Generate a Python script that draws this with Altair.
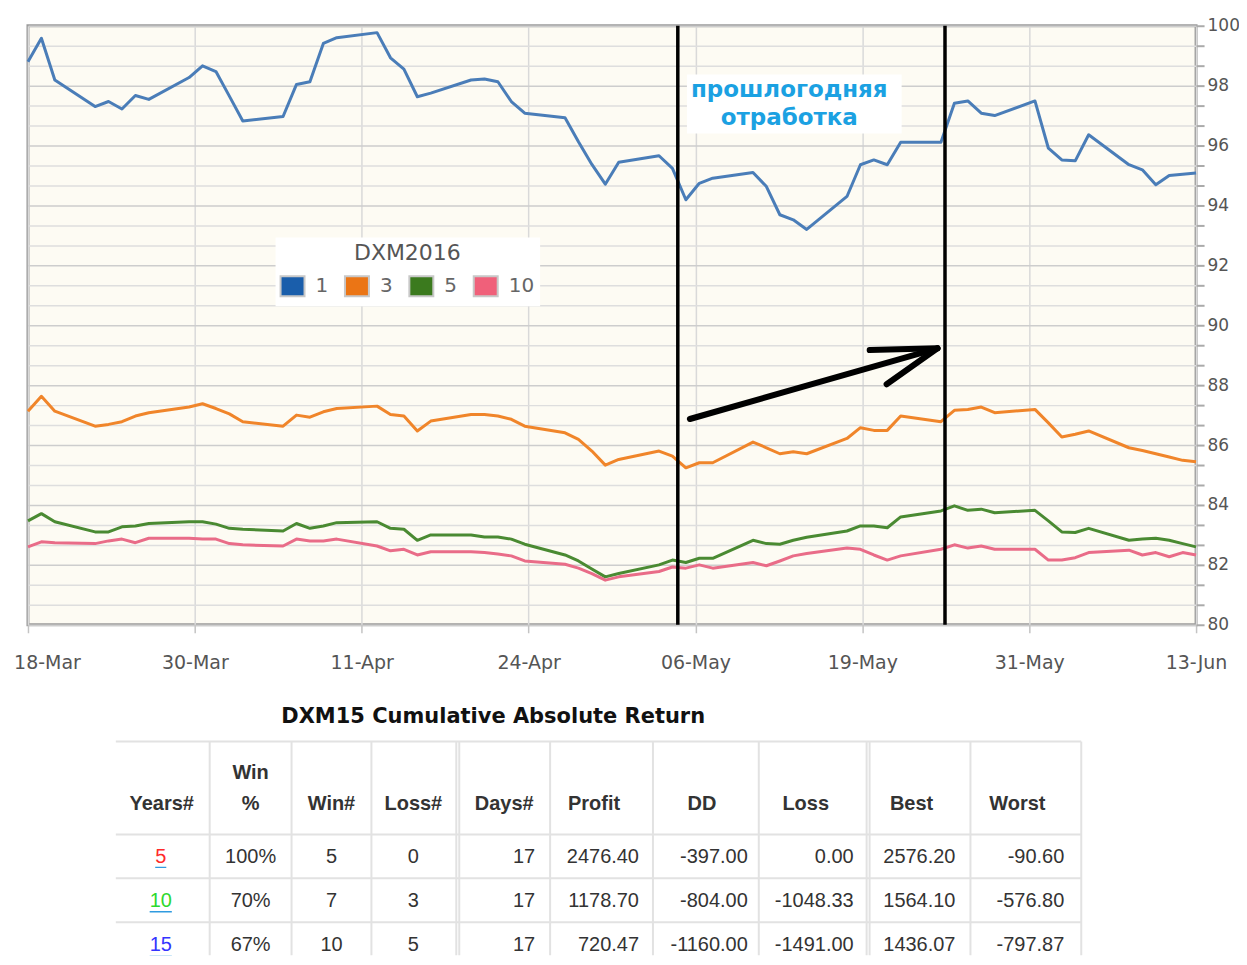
import altair as alt
import pandas as pd

# ---------------- chart data ----------------
days = [0, 1, 2, 5, 6, 7, 8, 9, 12, 13, 14, 15, 16, 19, 20, 21, 22, 23, 26, 27, 28, 29, 30,
        33, 34, 35, 36, 37, 40, 41, 42, 43, 44, 47, 48, 49, 50, 51, 54, 55, 56, 57, 58,
        61, 62, 63, 64, 65, 68, 69, 70, 71, 72, 75, 76, 77, 78, 79, 82, 83, 84, 85, 86, 87]

s1 = [98.8, 99.58, 98.19, 97.3, 97.47, 97.22, 97.67, 97.54, 98.27, 98.66, 98.47, 97.65, 96.82,
      96.97, 98.04, 98.13, 99.41, 99.6, 99.77, 98.93, 98.55, 97.63, 97.75, 98.19, 98.22, 98.13,
      97.47, 97.08, 96.93, 96.13, 95.37, 94.71, 95.44, 95.66, 95.24, 94.19, 94.74, 94.91, 95.1,
      94.63, 93.69, 93.52, 93.2, 94.3, 95.36, 95.52, 95.36, 96.11, 96.11, 97.41, 97.49, 97.08,
      97.0, 97.49, 95.91, 95.52, 95.49, 96.36, 95.36, 95.19, 94.69, 95.0, 95.04, 95.08]

s3 = [87.13, 87.63, 87.13, 86.63, 86.69, 86.78, 86.97, 87.08, 87.27, 87.38, 87.22, 87.04, 86.78,
      86.63, 87.0, 86.93, 87.11, 87.22, 87.3, 87.02, 86.97, 86.47, 86.8, 87.02, 87.02, 86.97,
      86.86, 86.63, 86.41, 86.19, 85.8, 85.33, 85.52, 85.8, 85.63, 85.24, 85.41, 85.41, 86.1,
      85.91, 85.71, 85.78, 85.71, 86.22, 86.58, 86.49, 86.49, 86.97, 86.78, 87.16, 87.19, 87.27,
      87.08, 87.19, 86.74, 86.27, 86.36, 86.47, 85.91, 85.82, 85.71, 85.6, 85.49, 85.44]

s5 = [83.47, 83.71, 83.44, 83.1, 83.1, 83.27, 83.3, 83.38, 83.44, 83.44, 83.36, 83.22, 83.19,
      83.13, 83.38, 83.22, 83.3, 83.41, 83.44, 83.22, 83.19, 82.82, 83.0, 83.0, 82.93, 82.93,
      82.86, 82.69, 82.33, 82.13, 81.86, 81.6, 81.71, 82.0, 82.16, 82.08, 82.22, 82.22, 82.82,
      82.71, 82.69, 82.82, 82.92, 83.13, 83.3, 83.3, 83.24, 83.6, 83.8, 83.97, 83.82, 83.86,
      83.74, 83.82, 83.47, 83.1, 83.08, 83.22, 82.82, 82.86, 82.89, 82.82, 82.71, 82.6]

s10 = [82.6, 82.77, 82.74, 82.71, 82.8, 82.86, 82.74, 82.89, 82.89, 82.86, 82.86, 82.71, 82.67,
       82.63, 82.86, 82.8, 82.8, 82.86, 82.63, 82.47, 82.52, 82.33, 82.44, 82.44, 82.41, 82.36,
       82.3, 82.13, 82.02, 81.89, 81.71, 81.49, 81.6, 81.78, 81.93, 81.89, 82.0, 81.89, 82.08,
       81.97, 82.13, 82.3, 82.38, 82.56, 82.52, 82.33, 82.16, 82.3, 82.52, 82.67, 82.56, 82.63,
       82.52, 82.52, 82.16, 82.16, 82.24, 82.41, 82.49, 82.33, 82.41, 82.27, 82.41, 82.33]

series_names = ["1", "3", "5", "10"]
legend_title = "DXM2016"
x_labels = ["18-Mar", "30-Mar", "11-Apr", "24-Apr", "06-May", "19-May", "31-May", "13-Jun"]
y_labels = [80, 82, 84, 86, 88, 90, 92, 94, 96, 98, 100]

# annotations (hand-drawn on the original)
vline_days = [48.4, 68.3]
arrow_from_day = [49.3, 62.69, 63.95]
arrow_from_val = [86.87, 89.17, 88.03]
arrow_tip_day = 67.74
arrow_tip_val = 89.23
note_lines = ["прошлогодняя", "отработка"]
note_day = 56.7
note_vals = [97.87, 96.93]
note_box = {"d1": 49.08, "d2": 65.07, "v1": 96.4, "v2": 98.37}

# table data
table_title = "DXM15 Cumulative Absolute Return"
col_headers = ["Years#", "Win %", "Win#", "Loss#", "Days#", "Profit", "DD", "Loss", "Best", "Worst"]
years = ["5", "10", "15"]
win_pct = ["100%", "70%", "67%"]
win_n = [5, 7, 10]
loss_n = [0, 3, 5]
days_n = [17, 17, 17]
profit = [2476.40, 1178.70, 720.47]
dd = [-397.00, -804.00, -1160.00]
loss_amt = [0.00, -1048.33, -1491.00]
best = [2576.20, 1564.10, 1436.07]
worst = [-90.60, -576.80, -797.87]

# ---------------- styles ----------------
line_colors = ["#4A7DB8", "#F0852A", "#4A8A32", "#E96C88"]
swatch_colors = ["#1A5EAB", "#EB7515", "#3B7A1E", "#F0607A"]
year_colors = ["#ff2a2a", "#2ed82e", "#3434ff"]
X_MAX = 87
x_ticks = [k * X_MAX / 7 for k in range(8)]
y_ticks = [80 + i * 2 / 3 for i in range(31)]

rows = []
for name, lc, vals in zip(series_names, line_colors, [s1, s3, s5, s10]):
    for d, v in zip(days, vals):
        rows.append({"day": d, "value": v, "series": name, "lc": lc})
df = pd.DataFrame(rows)

xs = alt.Scale(domain=[0, X_MAX], nice=False, zero=False)
ys = alt.Scale(domain=[80, 100], nice=False, zero=False)

label_arr = "[" + ",".join("'%s'" % s for s in x_labels) + "]"
ylab_arr = "[" + ",".join(str(v) for v in y_labels) + "]"
is_major = "abs(datum.value - round(datum.value)) < 0.01 && indexof(%s, round(datum.value)) >= 0" % ylab_arr

x_axis = alt.Axis(
    values=x_ticks, title=None, grid=True, gridColor="#d9d9d9", gridWidth=1.5,
    domain=False, tickSize=8, tickColor="#c4c4c4", tickWidth=1.5,
    labelExpr="%s[round(datum.value * 7 / %s)]" % (label_arr, X_MAX),
    labelFont="DejaVu Sans", labelFontSize=19, labelColor="#555555", labelPadding=21,
    labelFlush=False, labelOverlap=False,
    labelOffset={"condition": {"test": "datum.value < 1", "value": 19}, "value": 0},
)
y_axis = alt.Axis(
    orient="right", values=y_ticks, title=None, grid=True, gridWidth=1.5,
    gridColor={"condition": {"test": is_major, "value": "#cdcdcd"}, "value": "#dedede"},
    domain=False, tickSize=8, tickColor="#aaaaaa", tickWidth=2,
    labelExpr="(%s) ? format(round(datum.value), 'd') : ''" % is_major,
    labelFont="DejaVu Sans", labelFontSize=17, labelColor="#555555", labelPadding=3,
    labelOverlap=False,
)

X = lambda f="day": alt.X(f + ":Q", scale=xs, axis=x_axis)
Y = lambda f="value": alt.Y(f + ":Q", scale=ys, axis=y_axis)

lines = alt.Chart(df).mark_line(strokeWidth=3, strokeJoin="round").encode(
    x=X(), y=Y(),
    color=alt.Color("lc:N", scale=None),
    detail="series:N",
)

# legend swatches: one clipped, invisible helper square per series (pushed below the view)
leg_df = pd.DataFrame({"series": series_names, "day": [days[0]] * 4, "value": [70] * 4})
legend_layer = alt.Chart(leg_df).mark_square(filled=True, opacity=1, clip=True).encode(
    x=X(), y=Y(),
    fill=alt.Fill(
        "series:N",
        scale=alt.Scale(domain=series_names, range=swatch_colors),
        legend=alt.Legend(
            orient="none", legendX=248, legendY=212, direction="horizontal",
            title=legend_title, titleFont="DejaVu Sans", titleFontSize=22,
            titleFontWeight="normal", titleColor="#555555", titleAnchor="middle",
            titlePadding=10, fillColor="white", padding=6,
            symbolType="M-1.2,-1H1.2V1H-1.2Z", symbolSize=400,
            symbolStrokeColor="#c8c8c8", symbolStrokeWidth=2, symbolOpacity=1,
            labelFont="DejaVu Sans", labelFontSize=20, labelColor="#666666",
            labelOffset=12, columnPadding=12.5,
        ),
    ),
)

vrules = alt.Chart(pd.DataFrame({"day": vline_days})).mark_rule(
    color="black", strokeWidth=3.5
).encode(x=X())

adf = pd.DataFrame({
    "day": arrow_from_day, "value": arrow_from_val,
    "day2": [arrow_tip_day] * 3, "value2": [arrow_tip_val] * 3,
})
arrow = alt.Chart(adf).mark_rule(color="black", strokeWidth=6, strokeCap="round").encode(
    x=X(), y=Y(), x2="day2:Q", y2="value2:Q"
)

box = alt.Chart(pd.DataFrame([note_box])).mark_rect(fill="white").encode(
    x=X("d1"), x2="d2:Q", y=Y("v1"), y2="v2:Q"
)
note = alt.Chart(pd.DataFrame({"day": [note_day] * 2, "value": note_vals, "t": note_lines})).mark_text(
    font="DejaVu Sans", fontSize=23, fontWeight="bold", color="#1BA1E2",
    align="center", baseline="middle"
).encode(x=X(), y=Y(), text="t:N")

top = alt.layer(lines, vrules, arrow, box, note, legend_layer).properties(
    width=1170, height=600,
    view=alt.ViewBackground(fill="#FDFBF3", stroke="#9a9a9a", strokeWidth=3),
)

# ---------------- table (layout in page-pixel units) ----------------
T_TOP, T_BOT = 674, 955
tx = alt.Scale(domain=[27, 1197], nice=False, zero=False)
ty = alt.Scale(domain=[T_TOP, T_BOT], reverse=True, nice=False, zero=False)
TXe = lambda f: alt.X(f + ":Q", scale=tx, axis=None)
TYe = lambda f: alt.Y(f + ":Q", scale=ty, axis=None)

table_x0, table_x1 = 115, 1082
row_lines = [741, 834, 878, 922]
col_lines = [209, 291, 371, 456, 459, 550, 653, 759, 867, 870, 971, 1082]
hdr_x = [161, 250, 331, 413, 504, 594, 702, 806, 912, 1018]
hdr_y, hdr_gap = 804, 32
center_x = [160, 250, 331, 413]
right_x = [535, 639, 748, 854, 956, 1065]
row_y = [856.5, 901, 945]
title_xy = (493, 716.5)
line_col = "#e2e2e2"

hl = alt.Chart(pd.DataFrame({"y": row_lines, "x": [table_x0] * 4, "x2": [table_x1] * 4})).mark_rule(
    color=line_col, strokeWidth=2).encode(x=TXe("x"), x2="x2:Q", y=TYe("y"))
vl = alt.Chart(pd.DataFrame({"x": col_lines, "y": [row_lines[0]] * len(col_lines),
                             "y2": [T_BOT] * len(col_lines)})).mark_rule(
    color=line_col, strokeWidth=2).encode(x=TXe("x"), y=TYe("y"), y2="y2:Q")

ttl = alt.Chart(pd.DataFrame({"x": [title_xy[0]], "y": [title_xy[1]], "t": [table_title]})).mark_text(
    font="DejaVu Sans", fontSize=21, fontWeight="bold", color="#111111", baseline="middle"
).encode(x=TXe("x"), y=TYe("y"), text="t:N")

hdr_rows = []
for h, x in zip(col_headers, hdr_x):
    parts = h.split(" ")
    for k, p in enumerate(parts):
        hdr_rows.append({"x": x, "y": hdr_y - hdr_gap * (len(parts) - 1 - k), "t": p})
hdr = alt.Chart(pd.DataFrame(hdr_rows)).mark_text(
    font="Liberation Sans", fontSize=20, fontWeight="bold", color="#333333", baseline="middle"
).encode(x=TXe("x"), y=TYe("y"), text="t:N")

cen_rows, right_rows, ul_rows = [], [], []
for i in range(3):
    cvals = [years[i], win_pct[i], str(win_n[i]), str(loss_n[i])]
    ccols = [year_colors[i], "#333333", "#333333", "#333333"]
    for t, x, c in zip(cvals, center_x, ccols):
        cen_rows.append({"x": x, "y": row_y[i], "t": t, "c": c})
    w = 11.1 * len(years[i])
    ul_rows.append({"x": center_x[0] - w / 2, "x2": center_x[0] + w / 2, "y": row_y[i] + 10.5})
    rvals = [str(days_n[i])] + ["%.2f" % v for v in (profit[i], dd[i], loss_amt[i], best[i], worst[i])]
    for t, x in zip(rvals, right_x):
        right_rows.append({"x": x, "y": row_y[i], "t": t})

cen = alt.Chart(pd.DataFrame(cen_rows)).mark_text(
    font="Liberation Sans", fontSize=20, baseline="middle", align="center", clip=True
).encode(x=TXe("x"), y=TYe("y"), text="t:N", color=alt.Color("c:N", scale=None))
rgt = alt.Chart(pd.DataFrame(right_rows)).mark_text(
    font="Liberation Sans", fontSize=20, baseline="middle", align="right", color="#333333", clip=True
).encode(x=TXe("x"), y=TYe("y"), text="t:N")
ul = alt.Chart(pd.DataFrame(ul_rows)).mark_rule(color="#2f9be0", strokeWidth=1.5, clip=True).encode(
    x=TXe("x"), x2="x2:Q", y=TYe("y"))

table = alt.layer(hl, vl, ttl, hdr, cen, rgt, ul).properties(
    width=1170, height=T_BOT - T_TOP,
    view=alt.ViewBackground(stroke="transparent"),
)

chart = alt.vconcat(top, table, spacing=50, bounds="flush").properties(
    padding={"left": 4, "top": 6, "right": -2, "bottom": 0}
).configure(background="white")

chart.save("out.html", embed_options={"renderer": "svg", "actions": False})
